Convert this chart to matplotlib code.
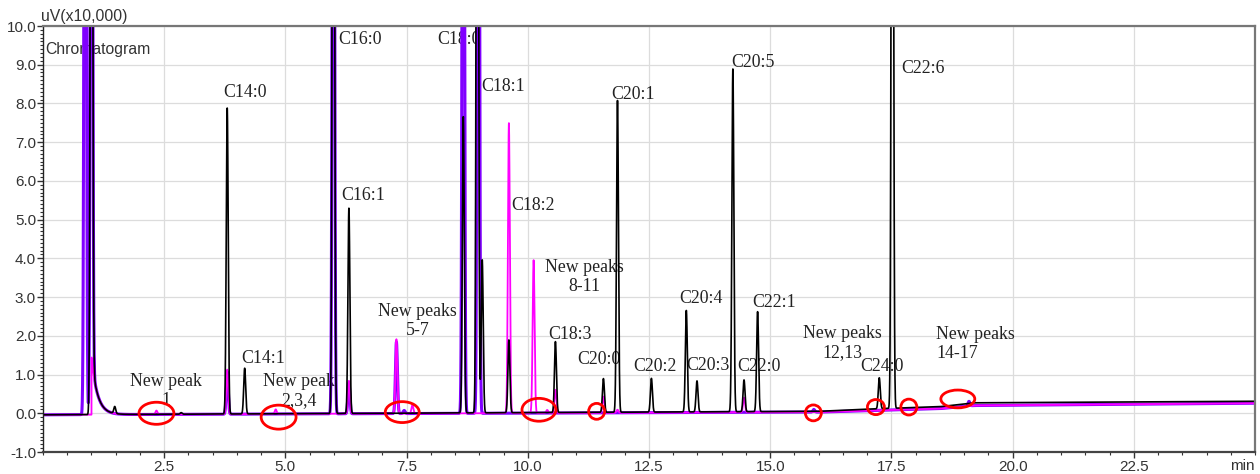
import numpy as np
import matplotlib
matplotlib.use("Agg")
import matplotlib.pyplot as plt
from matplotlib.patches import Ellipse
from matplotlib.ticker import MultipleLocator, FormatStrFormatter

# ---- data: retention time (min) and peak height (uV x10,000) ----
# control sample (black trace)
black_rt = [1.00, 1.48, 2.85, 3.80, 4.16, 5.99, 6.31, 8.67, 8.96, 9.06,
            9.61, 10.57, 11.56, 11.85, 12.55, 13.27, 13.49, 14.23, 14.46,
            14.74, 17.25, 17.52]
black_h = [30.0, 0.18, 0.04, 7.90, 1.18, 30.0, 5.30, 7.65, 30.0, 3.95,
           1.88, 1.83, 0.87, 8.05, 0.87, 2.62, 0.80, 8.85, 0.82,
           2.58, 0.80, 30.0]

# treated sample, violet trace
violet_rt = [0.87, 1.00, 3.80, 5.99, 6.31, 7.29, 7.45, 8.67, 8.98, 15.90, 19.10]
violet_h = [30.0, 30.0, 1.10, 30.0, 0.80, 1.85, 0.08, 30.0, 30.0, 0.07, 0.12]

# treated sample, magenta trace
magenta_rt = [2.34, 3.80, 4.80, 6.31, 7.29, 7.62, 9.61, 10.12, 10.40, 10.57,
              11.56, 11.85, 14.46]
magenta_h = [0.10, 1.15, 0.12, 0.85, 1.92, 0.22, 7.49, 3.95, 0.08, 0.60,
             0.42, 0.08, 0.38]

# baseline drift
baseline_t = [0.0, 16.0, 17.3, 18.5, 19.2, 25.0]
baseline_black = [-0.04, 0.05, 0.12, 0.17, 0.27, 0.31]
baseline_color = [-0.04, 0.03, 0.08, 0.12, 0.20, 0.26]

# solvent tail: start (min), amplitude, decay constant (min)
solvent_tail = (1.00, 1.5, 0.12)

# peak names
peak_names = ["C14:0", "C14:1", "C16:0", "C16:1", "C18:0", "C18:1", "C18:2",
              "C18:3", "C20:0", "C20:1", "C20:2", "C20:4", "C20:3", "C20:5",
              "C22:0", "C22:1", "C24:0", "C22:6"]
new_peak_names = ["New peak\n1", "New peak\n2,3,4", "New peaks\n5-7",
                  "New peaks\n8-11", "New peaks\n12,13", "New peaks\n14-17"]

# ---- layout ----
name_pos = [(3.72, 8.29), (4.09, 1.42), (6.08, 9.66), (6.16, 5.63),
            (8.13, 9.64), (9.03, 8.45), (9.65, 5.37), (10.43, 2.04),
            (11.01, 1.40), (11.72, 8.24), (12.18, 1.21), (13.12, 2.97),
            (13.26, 1.24), (14.19, 9.07), (14.33, 1.21), (14.62, 2.87),
            (16.86, 1.21), (17.70, 8.89)]
new_pos = [(2.54, 0.57, "center"), (5.28, 0.58, "center"),
           (7.72, 2.39, "center"), (11.16, 3.53, "center"),
           (16.49, 1.82, "center"), (18.42, 1.78, "left")]
# circled regions: centre x, centre y, width (min), height
circles = [(2.34, 0.00, 0.72, 0.57), (4.86, -0.10, 0.72, 0.62),
           (7.41, 0.03, 0.70, 0.54), (10.23, 0.09, 0.70, 0.59),
           (11.42, 0.05, 0.33, 0.41), (15.89, 0.01, 0.33, 0.41),
           (17.18, 0.16, 0.35, 0.39), (17.86, 0.16, 0.33, 0.41),
           (18.87, 0.37, 0.70, 0.46)]

t = np.arange(0.0, 25.0001, 0.002)


def build_trace(rts, hs, base, sigma=0.02):
    y = np.interp(t, baseline_t, base)
    for rt, h in zip(rts, hs):
        y = y + h * np.exp(-0.5 * ((t - rt) / sigma) ** 2)
    t0, amp, tau = solvent_tail
    y = y + np.where(t > t0, amp * np.exp(-(t - t0) / tau), 0.0)
    return y


fig = plt.figure(figsize=(12.6, 4.74), dpi=100)
ax = fig.add_axes([43 / 1260, 1 - 452 / 474, (1255 - 43) / 1260, (452 - 26) / 474])

ax.plot(t, build_trace(violet_rt, violet_h, baseline_color), color="#8000ff",
        lw=2.2, zorder=2)
ax.plot(t, build_trace(magenta_rt, magenta_h, baseline_color), color="#ff00ff",
        lw=1.3, zorder=2.1)
ax.plot(t, build_trace(black_rt, black_h, baseline_black), color="black",
        lw=1.2, zorder=2.2)

ax.set_xlim(0, 25)
ax.set_ylim(-1, 10)
ax.xaxis.set_major_locator(MultipleLocator(2.5))
ax.xaxis.set_minor_locator(MultipleLocator(0.5))
ax.yaxis.set_major_locator(MultipleLocator(1.0))
ax.yaxis.set_minor_locator(MultipleLocator(0.1))
ax.xaxis.set_major_formatter(FormatStrFormatter("%.1f"))
ax.yaxis.set_major_formatter(FormatStrFormatter("%.1f"))
ax.set_xticks([2.5, 5.0, 7.5, 10.0, 12.5, 15.0, 17.5, 20.0, 22.5])
ax.grid(True, which="major", color="#dcdcdc", lw=0.9)
ax.set_axisbelow(True)

sans = ["Liberation Sans", "DejaVu Sans"]
serif = ["Liberation Serif", "DejaVu Serif"]
ax.tick_params(axis="both", which="major", length=4, width=1, colors="#333333",
               labelsize=11)
ax.tick_params(axis="both", which="minor", length=2.5, width=0.8, colors="#333333")
ax.tick_params(axis="x", pad=1.5)
ax.tick_params(axis="y", pad=1)
for lab in ax.get_xticklabels() + ax.get_yticklabels():
    lab.set_family(sans)

for side in ["top", "right"]:
    ax.spines[side].set_color("#777777")
    ax.spines[side].set_linewidth(1.6)
ax.spines["bottom"].set_color("#444444")
ax.spines["bottom"].set_linewidth(1.6)
ax.spines["left"].set_color("#222222")
ax.spines["left"].set_linewidth(1.0)

fig.text(41 / 1260, 1 - 17 / 474, "uV(x10,000)", family=sans, fontsize=11.3,
         color="#333333", ha="left", va="center")
ax.text(0.05, 9.4, "Chromatogram", family=sans, fontsize=11.3, color="#333333",
        ha="left", va="center", zorder=1)
ax.annotate("min", xy=(1, 0), xycoords="axes fraction", xytext=(0, -5),
            textcoords="offset points", ha="right", va="top", family=sans,
            fontsize=11, color="#333333")

for name, (x, y) in zip(peak_names, name_pos):
    ax.text(x, y, name, family=serif, fontsize=12.8, color="#222222",
            ha="left", va="center", zorder=1)
for name, (x, y, ha) in zip(new_peak_names, new_pos):
    ax.text(x, y, name, family=serif, fontsize=12.8, color="#222222",
            ha=ha, va="center", multialignment=ha, linespacing=1.15, zorder=1)

for cx, cy, w, h in circles:
    ax.add_patch(Ellipse((cx, cy), w, h, fill=False, edgecolor="#ff0000",
                         lw=2.0, zorder=3))

fig.savefig("out.png", dpi=100, facecolor="white")
